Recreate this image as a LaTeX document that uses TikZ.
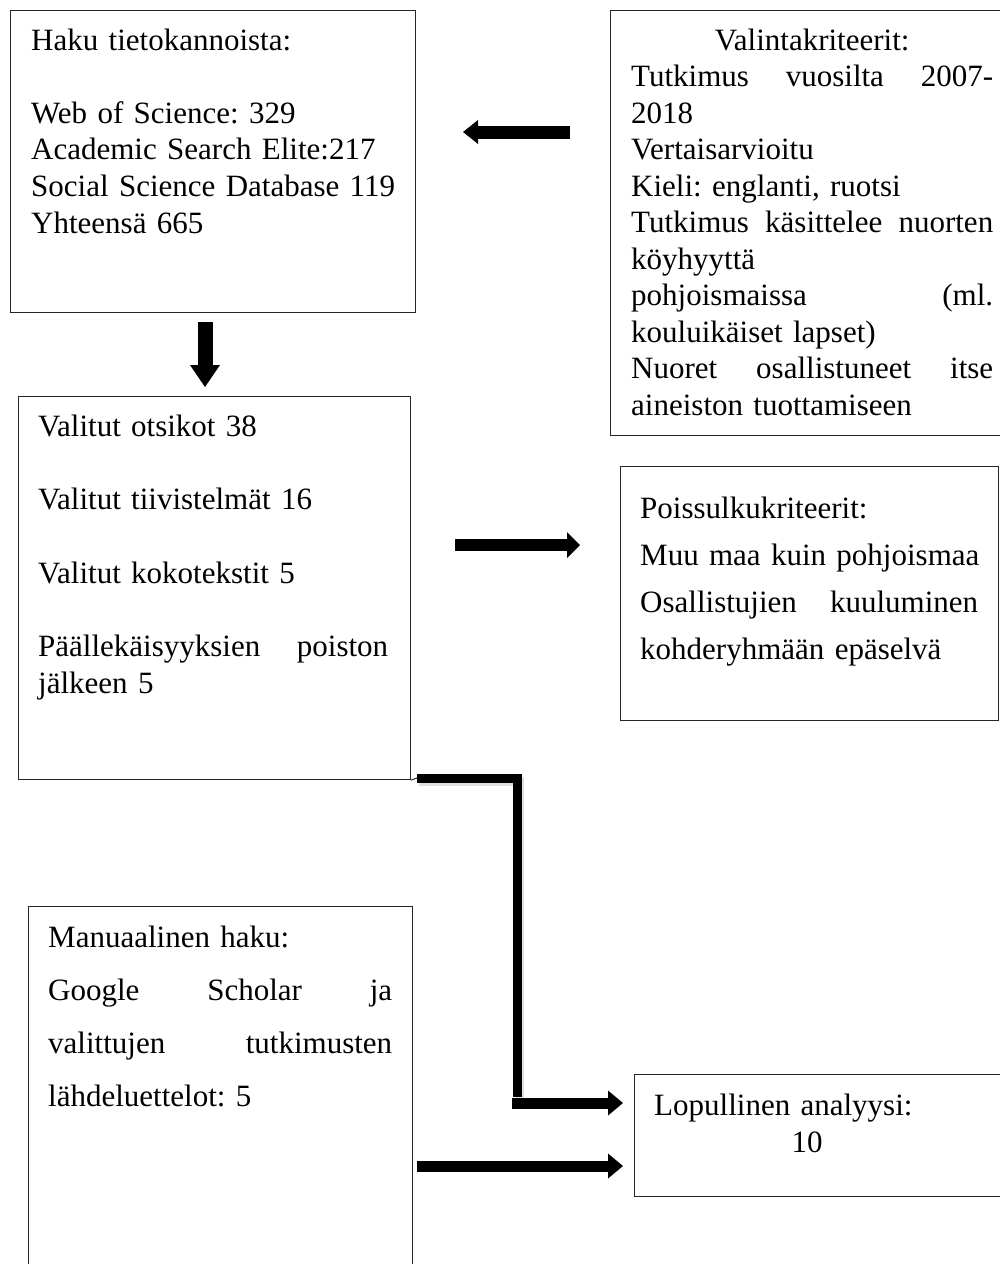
\documentclass[tikz,border=0pt]{standalone}
\usepackage{fontspec}
\setmainfont{Liberation Serif}
\usetikzlibrary{arrows.meta}
\newcommand{\txtsetup}{\frenchspacing\hyphenpenalty=10000\relax\exhyphenpenalty=10000\relax}
\tikzset{
  box/.style={draw=black!85, line width=1.1pt, anchor=north west, inner sep=0pt},
  txt/.style={anchor=base west, inner sep=0pt, align=left, text width=#1},
  fs/.style={font=\fontsize{31}{#1}\selectfont\txtsetup},
  fat/.style n args={3}{draw=black, line width=#1, -{Triangle[length=#2, width=#3, line width=0pt]}},
  bar/.style={draw=black, line width=#1},
  thin/.style={draw=black!85, line width=1pt}
}
\newcommand{\jline}[1]{\makebox[\linewidth][s]{#1}}
\begin{document}
\begin{tikzpicture}[x=1pt,y=-1pt]
\useasboundingbox (0,0) rectangle (1000,1264);
\clip (0,0) rectangle (1000,1264);
% boxes
\node[box, minimum width=405pt, minimum height=302pt] (B1) at (10,10) {};
\node[box, minimum width=400pt, minimum height=425pt] (B2) at (610,10) {};
\node[box, minimum width=392pt, minimum height=383pt] (B3) at (18,396) {};
\node[box, minimum width=378pt, minimum height=254pt] (B4) at (620,466) {};
\node[box, minimum width=384pt, minimum height=400pt] (B5) at (28,906) {};
\node[box, minimum width=380pt, minimum height=122pt] (B6) at (634,1074) {};
% texts
\node[txt=390pt, fs=36.6] (T1) at (31,50) {Haku tietokannoista:\\[36.6pt]
Web of Science: 329\\
Academic Search Elite:217\\
Social Science Database 119\\
Yhteensä 665};
\node[txt=362pt, fs=36.5] (T2) at (631,50) {\makebox[\linewidth][c]{Valintakriteerit:}\\
\jline{Tutkimus\hfill vuosilta\hfill 2007-}\\
2018\\
Vertaisarvioitu\\
Kieli: englanti, ruotsi\\
\jline{Tutkimus\hfill käsittelee\hfill nuorten}\\
köyhyyttä\\
\jline{pohjoismaissa\hfill (ml.}\\
kouluikäiset lapset)\\
\jline{Nuoret\hfill osallistuneet\hfill itse}\\
aineiston tuottamiseen};
\node[txt=350pt, fs=36.2] (T3) at (38,436) {Valitut otsikot 38\\[37.4pt]
Valitut tiivistelmät 16\\[37.4pt]
Valitut kokotekstit 5\\[37.4pt]
\jline{Päällekäisyyksien\hfill poiston}\\
jälkeen 5};
\node[txt=345pt, fs=47.3] (T4) at (640,518) {Poissulkukriteerit:\\
\mbox{Muu maa kuin pohjoismaa}\\
\makebox[338pt][s]{Osallistujien\hfill kuuluminen}\\
kohderyhmään epäselvä};
\node[txt=344pt, fs=53] (T5) at (48,947) {Manuaalinen haku:\\
\jline{Google\hfill Scholar\hfill ja}\\
\jline{valittujen\hfill tutkimusten}\\
lähdeluettelot: 5};
\node[txt=306pt, fs=37] (T6) at (654,1115) {Lopullinen analyysi:\\
\makebox[\linewidth][c]{10}};
% connector coordinates
\coordinate (a1s) at (570,132);
\coordinate (a1e) at (463,132);
\coordinate (a2s) at (205,322);
\coordinate (a2e) at (205,387);
\coordinate (a3s) at (455,545);
\coordinate (a3e) at (580,545);
\coordinate (e0) at (417,778);
\coordinate (e1) at (517,778);
\coordinate (e2) at (517,1097);
\coordinate (a4s) at (512,1103);
\coordinate (a4e) at (623,1103);
\coordinate (a5s) at (417,1166);
\coordinate (a5e) at (623,1166);
% connectors
\draw[fat={13pt}{15pt}{24pt}, line join=round] (a1s) -- (a1e);
\draw[fat={15pt}{22pt}{30pt}] (a2s) -- (a2e);
\draw[fat={12pt}{13pt}{26pt}] (a3s) -- (a3e);
\draw[thin] (B3.south east) -- (e0);
\draw[bar=9pt, black!12, line join=miter] ([shift={(2,3)}]e0) -- ([shift={(2,3)}]e1) -- ([shift={(2,3)}]e2);
\draw[bar=9pt, line join=miter] (e0) -- (e1) -- (e2);
\draw[fat={11pt}{15pt}{25pt}] (a4s) -- (a4e);
\draw[fat={11pt}{15pt}{25pt}] (a5s) -- (a5e);
\end{tikzpicture}
\end{document}
